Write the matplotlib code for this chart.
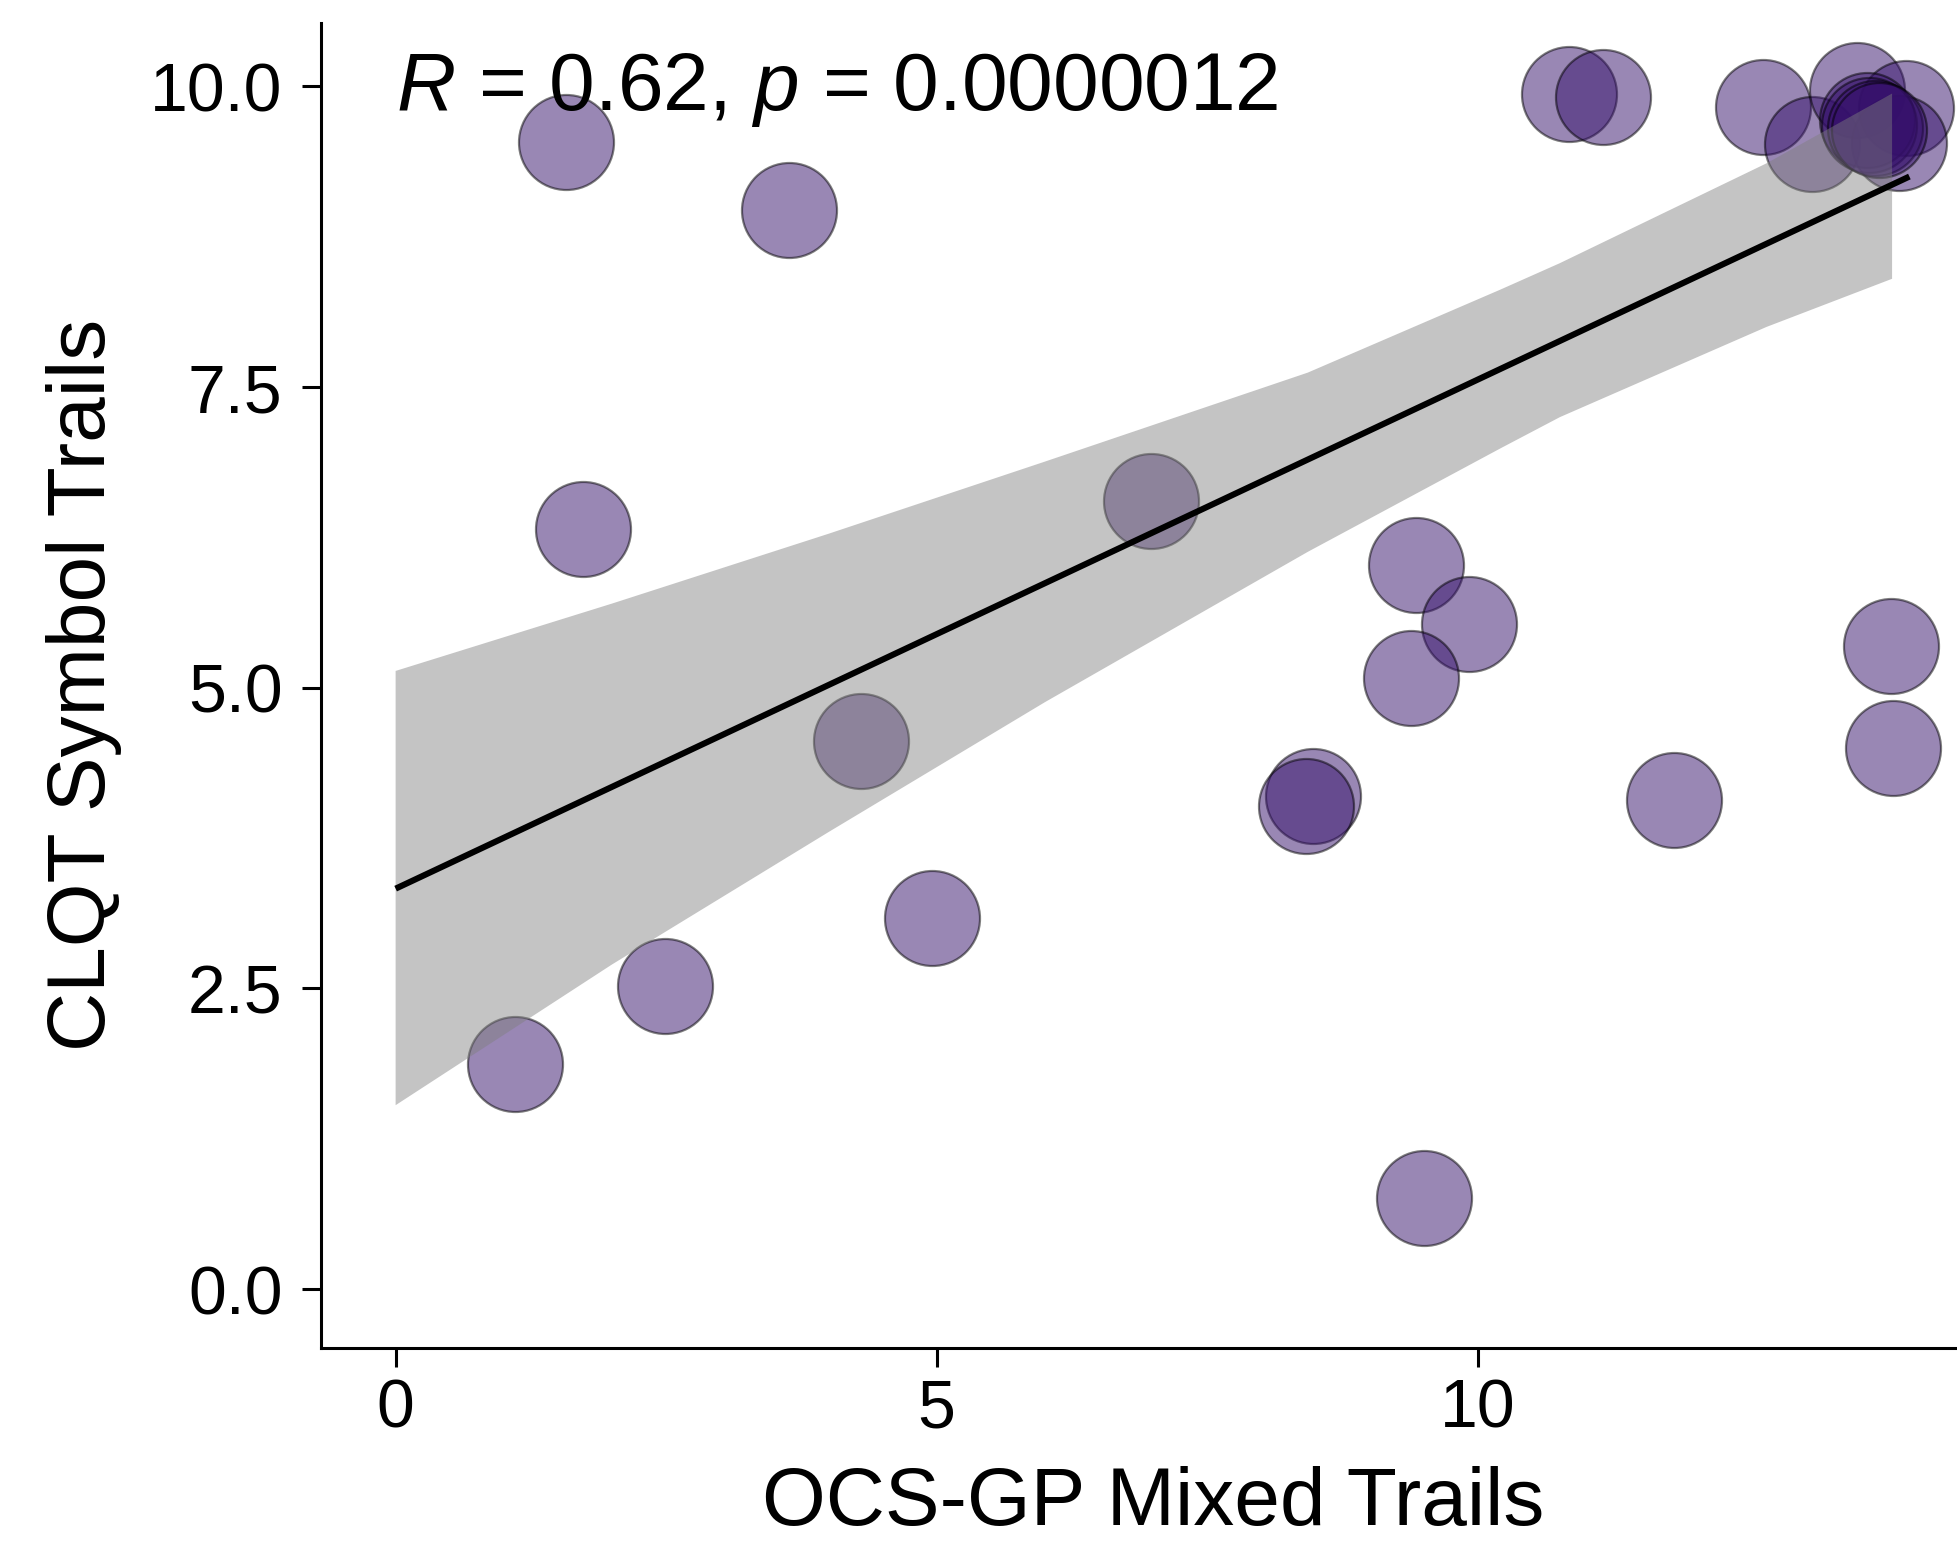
import matplotlib
matplotlib.use("Agg")
import matplotlib.pyplot as plt

plt.rcParams["font.family"] = ["Liberation Sans", "DejaVu Sans"]
plt.rcParams["mathtext.fontset"] = "custom"
plt.rcParams["mathtext.it"] = "Liberation Sans:italic"
plt.rcParams["mathtext.rm"] = "Liberation Sans"

# scatter values
mixed_trails = [1.57, 3.64, 1.73, 6.98, 4.30, 1.10, 2.49, 4.96, 9.43, 9.92,
                9.38, 8.48, 8.41, 9.50, 11.81, 13.82, 13.84, 10.84, 11.16, 12.64,
                13.09, 13.51, 13.96, 13.89, 13.60, 13.62, 13.67, 13.71]
symbol_trails = [9.54, 8.97, 6.32, 6.55, 4.56, 1.87, 2.52, 3.09, 6.02, 5.53,
                 5.08, 4.10, 4.02, 0.76, 4.07, 5.35, 4.50, 9.94, 9.91, 9.83,
                 9.52, 9.97, 9.82, 9.53, 9.72, 9.68, 9.65, 9.64]

# fitted line and its confidence band, as drawn in the reference
fit_x = [0.0, 13.99]
fit_y = [3.33, 9.25]
band_x = [0.0, 2.0, 4.0, 6.0, 8.43, 10.21, 10.76, 12.67, 13.83]
band_upper = [5.14, 5.70, 6.28, 6.88, 7.62, 8.31, 8.53, 9.36, 9.94]
band_lower = [1.53, 2.70, 3.80, 4.88, 6.13, 6.99, 7.25, 8.00, 8.40]

x_ticks = [0, 5, 10]
y_ticks = [0.0, 2.5, 5.0, 7.5, 10.0]
stat_label = r"$\mathit{R}$ = 0.62, $\mathit{p}$ = 0.0000012"

fig = plt.figure(figsize=(9.785, 7.73), dpi=200)
ax = fig.add_axes([0.1639, 0.1282, 0.8361, 0.8572])

ax.scatter(mixed_trails, symbol_trails, s=1170, color="#35106b", alpha=0.5,
           edgecolors=(0, 0, 0, 0.55), linewidths=0.8, zorder=2)

# band sits on top of the points, like in the original
poly_x = band_x + band_x[::-1]
poly_y = band_upper + band_lower[::-1]
ax.fill(poly_x, poly_y, color="#7f7f7f", alpha=0.46, lw=0, zorder=3)
ax.plot(fit_x, fit_y, color="black", lw=2.2, zorder=4, solid_capstyle="butt")

ax.text(0, 9.80, stat_label, fontsize=29.5, va="baseline", ha="left", zorder=5)

ax.set_xlim(-0.692, 14.43)
ax.set_ylim(-0.487, 10.53)
ax.set_xticks(x_ticks)
ax.set_yticks(y_ticks)
ax.set_yticklabels([f"{v:.1f}" for v in y_ticks])

for side in ("top", "right"):
    ax.spines[side].set_visible(False)
for side in ("left", "bottom"):
    ax.spines[side].set_linewidth(1.1)

ax.tick_params(axis="both", length=6.8, width=1.1, labelsize=24.5, colors="black")
ax.tick_params(axis="x", pad=4)
ax.tick_params(axis="y", pad=7)

ax.set_xlabel("OCS-GP Mixed Trails", fontsize=29.5)
ax.set_ylabel("CLQT Symbol Trails", fontsize=29.5)
ax.xaxis.set_label_coords(0.509, -0.0895)
ax.yaxis.set_label_coords(-0.1215, 0.5)

fig.savefig("out.png", dpi=200)
